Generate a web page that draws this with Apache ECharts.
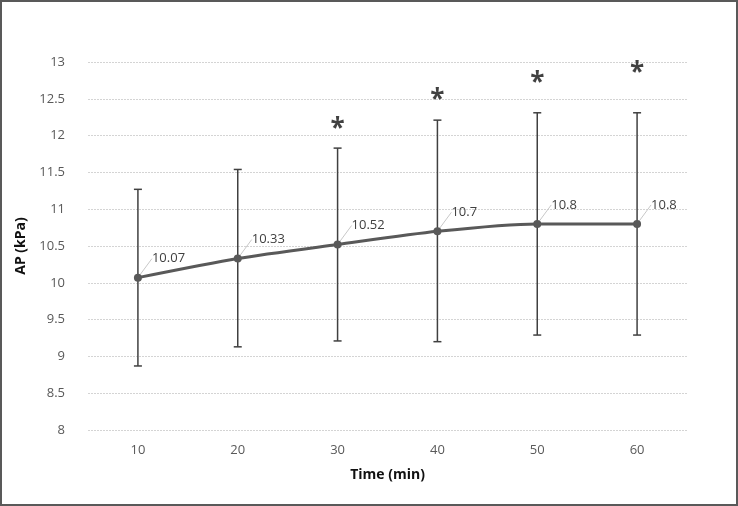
<!DOCTYPE html>
<html>
<head>
<meta charset="utf-8">
<script src="https://cdn.jsdelivr.net/npm/echarts@6/dist/echarts.min.js"></script>
<style>
  html, body { margin: 0; padding: 0; background: #fff; }
  #main { width: 738px; height: 506px; }
</style>
</head>
<body>
<div id="main"></div>
<script>
// data
var times = ['10', '20', '30', '40', '50', '60']
var apMean = [10.07, 10.33, 10.52, 10.7, 10.8, 10.8]
var apHigh = [11.27, 11.54, 11.83, 12.21, 12.31, 12.31]
var apLow = [8.87, 9.13, 9.21, 9.2, 9.29, 9.29]
// asterisk markers (significance), null = none
var starY = [null, null, 12.08, 12.48, 12.7, 12.84]

var fontFam = '"Open Sans", "Noto Sans", sans-serif'

var errData = times.map(function (t, i) { return [i, apLow[i], apHigh[i]] })
var starData = times.map(function (t, i) { return starY[i] == null ? null : [i, starY[i]] }).filter(function (d) { return d })

var chart = echarts.init(document.getElementById('main'))
chart.setOption({
  animation: false,
  grid: { left: 88, right: 51, top: 62, bottom: 76 },
  graphic: [{
    type: 'rect',
    shape: { x: 1, y: 1, width: 736, height: 504 },
    style: { fill: 'none', stroke: '#595959', lineWidth: 2 },
    silent: true
  }],
  xAxis: {
    type: 'category',
    data: times,
    name: 'Time (min)',
    nameLocation: 'middle',
    nameGap: 38,
    nameTextStyle: { fontFamily: fontFam, fontWeight: 'bold', fontSize: 14, color: '#111' },
    axisLine: { show: false },
    axisTick: { show: false },
    axisLabel: { margin: 14, fontFamily: fontFam, fontSize: 13, color: '#595959' }
  },
  yAxis: {
    type: 'value',
    min: 8,
    max: 13,
    interval: 0.5,
    name: 'AP (kPa)',
    nameLocation: 'middle',
    nameGap: 55,
    nameTextStyle: { fontFamily: fontFam, fontWeight: 'bold', fontSize: 14, color: '#111' },
    axisLine: { show: false },
    axisTick: { show: false },
    axisLabel: { margin: 23, fontFamily: fontFam, fontSize: 13, color: '#595959' },
    splitLine: { lineStyle: { color: '#d4d4d4', type: [2, 1], width: 1 } }
  },
  series: [
    {
      type: 'custom',
      name: 'sd',
      data: errData,
      z: 2,
      renderItem: function (params, api) {
        var top = api.coord([api.value(0), api.value(2)])
        var bot = api.coord([api.value(0), api.value(1)])
        var w = 4
        var st = { stroke: '#404040', lineWidth: 1.5 }
        return {
          type: 'group',
          children: [
            { type: 'line', shape: { x1: top[0], y1: top[1], x2: bot[0], y2: bot[1] }, style: st },
            { type: 'line', shape: { x1: top[0] - w, y1: top[1], x2: top[0] + w, y2: top[1] }, style: st },
            { type: 'line', shape: { x1: bot[0] - w, y1: bot[1], x2: bot[0] + w, y2: bot[1] }, style: st }
          ]
        }
      }
    },
    {
      type: 'line',
      name: 'AP',
      data: apMean,
      smooth: 0.25,
      z: 3,
      symbol: 'circle',
      symbolSize: 8,
      itemStyle: { color: '#595959' },
      lineStyle: { color: '#595959', width: 3 },
      label: {
        show: true,
        position: 'right',
        distance: 6,
        fontFamily: fontFam,
        fontSize: 13,
        color: '#404040'
      },
      labelLayout: { dx: 4, dy: -19 },
      labelLine: { show: true, lineStyle: { color: '#c8c8c8', width: 1 } }
    },
    {
      type: 'scatter',
      name: 'sig',
      data: starData,
      symbolSize: 1,
      itemStyle: { color: 'rgba(0,0,0,0)' },
      label: {
        show: true,
        position: 'inside',
        formatter: '*',
        fontFamily: fontFam,
        fontWeight: 'bold',
        fontSize: 26,
        color: '#111'
      }
    }
  ]
})
</script>
</body>
</html>
